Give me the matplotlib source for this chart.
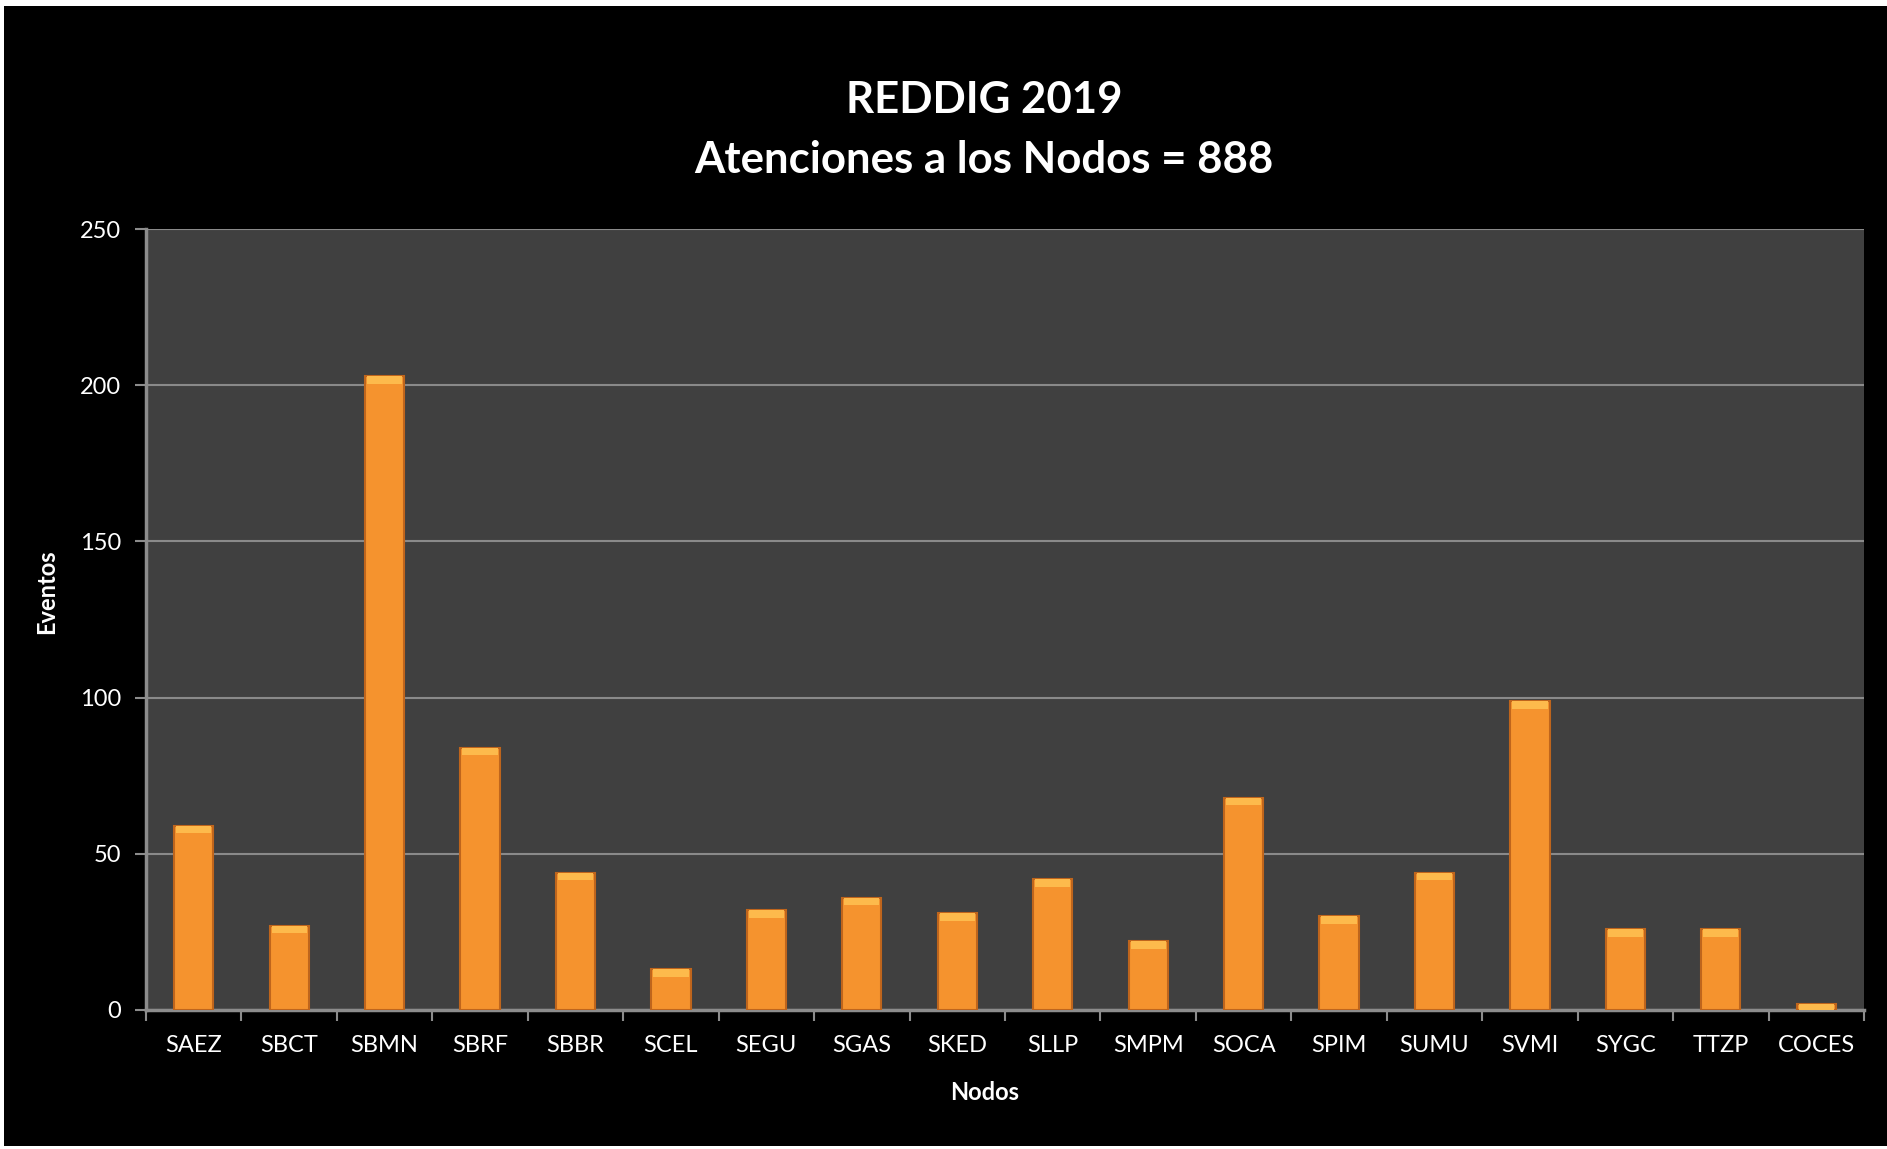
import matplotlib.pyplot as plt
import numpy as np
from matplotlib.patches import Rectangle

# data
nodos = ['SAEZ', 'SBCT', 'SBMN', 'SBRF', 'SBBR', 'SCEL', 'SEGU', 'SGAS', 'SKED',
         'SLLP', 'SMPM', 'SOCA', 'SPIM', 'SUMU', 'SVMI', 'SYGC', 'TTZP', 'COCES']
eventos = [59, 27, 203, 84, 44, 13, 32, 36, 31, 42, 22, 68, 30, 44, 99, 26, 26, 2]
y_ticks = [0, 50, 100, 150, 200, 250]

plt.rcParams['font.family'] = ['Lato', 'DejaVu Sans']

fig = plt.figure(figsize=(18.87, 11.49), dpi=100, facecolor='white')
# black chart area with thin white frame
fig.patches.append(Rectangle((4 / 1887, 3 / 1149), 1 - 4 / 1887, 1 - 9 / 1149,
                             transform=fig.transFigure, facecolor='black',
                             edgecolor='none', zorder=-5))

ax = fig.add_axes([146 / 1887, 139 / 1149, 1718 / 1887, 781 / 1149])
ax.set_facecolor('#404040')

x = np.arange(len(nodos))
vals = np.array(eventos)

# main bars
ax.bar(x, vals, width=0.41, color='#F5932E', edgecolor='#BF651C', linewidth=1.5, zorder=3)
# lighter bevel on top of each bar
cap = np.minimum(vals, 2.5)
ax.bar(x, cap, bottom=vals - cap, width=0.37, color='#FDBA4C', edgecolor='none', zorder=4)

ax.set_xlim(-0.5, len(nodos) - 0.5)
ax.set_ylim(0, 250)
ax.set_yticks(y_ticks)
ax.yaxis.grid(True, color='#8a8a8a', linewidth=1.5, zorder=1)
ax.set_axisbelow(True)

# category labels centred, tick marks between categories
ax.set_xticks(x)
ax.set_xticklabels(nodos)
ax.set_xticks(np.arange(len(nodos) + 1) - 0.5, minor=True)
ax.tick_params(axis='x', which='major', length=0, pad=18, labelsize=17, labelcolor='white')
ax.tick_params(axis='x', which='minor', length=8, width=1.5, color='#8c8c8c', direction='out')
ax.tick_params(axis='y', length=8, width=1.5, color='#8c8c8c', pad=10, labelsize=17, labelcolor='white')

for s in ['top', 'right']:
    ax.spines[s].set_visible(False)
for s in ['left', 'bottom']:
    ax.spines[s].set_color('#8c8c8c')
    ax.spines[s].set_linewidth(2.5)

ax.set_xlabel('Nodos', fontsize=17, fontweight='bold', color='white', va='center')
ax.xaxis.set_label_coords(0.488, -0.105)
ax.set_ylabel('Eventos', fontsize=17, fontweight='bold', color='white', va='center')
ax.yaxis.set_label_coords(-0.0576, 0.536)

fig.text(984 / 1887, 1 - 100 / 1149, 'REDDIG 2019', ha='center', va='center',
         fontsize=31.5, fontweight='bold', color='white')
fig.text(984 / 1887, 1 - 160 / 1149, 'Atenciones a los Nodos = 888', ha='center', va='center',
         fontsize=31.5, fontweight='bold', color='white')

fig.savefig('out.png', dpi=100, facecolor=fig.get_facecolor())
